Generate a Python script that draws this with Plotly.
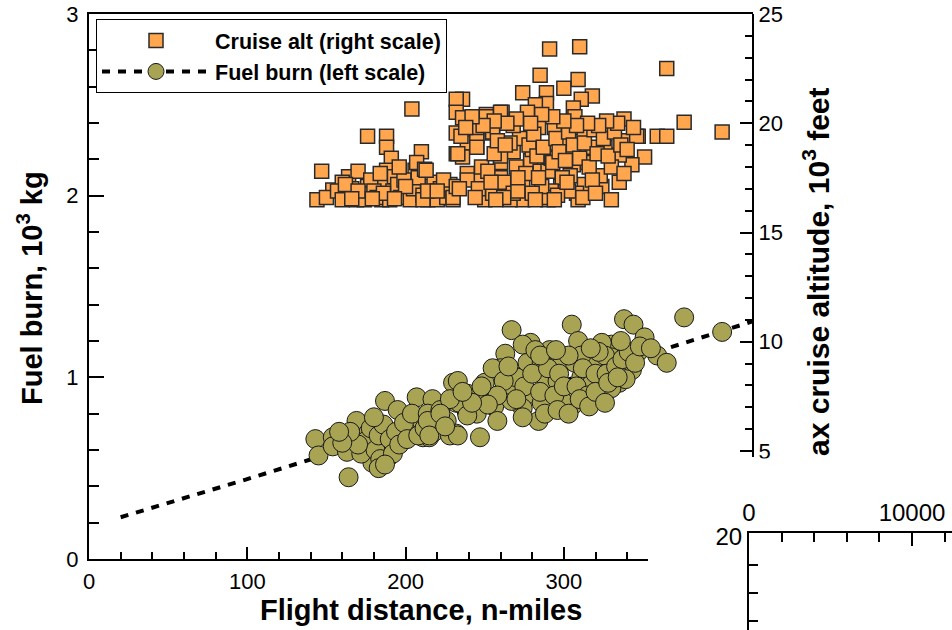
import plotly.graph_objects as go

# ---------------- data ----------------
# Max cruise altitude (right scale, 10^3 ft) vs flight distance (n-miles)
sq_dist = [204,176,188,188,191,210,147,144,154,164,170,163,169,176,185,188,185,201,206,214,214,176,193,160,
           150,157,160,166,172,174,178,180,182,190,192,195,197,199,203,205,208,211,216,218,220,222,226,228,
           184,196,207,212,162,170,186,200,166,179,193,211,224,230,213,214,220,230,
           291,310,365,285,309,274,289,300,318,311,289,282,306,236,251,261,307,376,400,359,365,338,330,347,
           351,343,335,326,318,312,304,299,291,279,285,306,313,324,330,323,290,274,274,266,250,247,260,268,
           272,255,245,245,239,236,239,260,255,266,298,308,309,304,232,232,232,232,232,
           277,284,294,260,266,280,299,303,292,305,268,260,251,255,245,245,233,235,236,245,239,234,262,268,
           288,286,290,292,315,330,330,339,346,
           248,252,256,258,263,270,276,278,281,283,287,293,295,297,301,303,306,310,313,316,319,321,325,328,
           332,336,340,344,334,327,322,315,308,300,293,286,279,270,264,256,249,242,238,246,254,262,271,280,
           284,296,302,312,318,335,338,320,282,294,257,244,271]
sq_alt = [20.65,19.4,19.4,18.9,18.4,18.7,17.8,16.5,16.95,17.55,17.8,16.7,16.5,17.1,17.2,17.85,16.5,16.8,17.85,17.1,16.5,16.6,17.55,17.3,
          16.6,16.9,16.5,17.0,16.8,16.5,17.4,16.9,16.6,16.5,16.9,17.2,16.6,17.4,16.5,17.0,17.5,16.7,16.8,17.3,16.5,17.0,16.6,17.2,
          17.7,18.0,18.2,17.9,17.2,16.9,16.8,17.1,16.55,16.55,16.55,16.5,17.4,16.5,17.85,16.9,16.9,16.6,
          23.4,23.5,22.5,22.2,22.0,21.4,21.4,21.6,21.25,21.1,20.9,20.85,20.7,21.1,20.4,20.5,20.3,20.05,19.6,19.4,19.4,20.2,19.9,19.4,
          18.45,18.1,18.55,18.9,18.9,19.5,19.8,19.2,18.45,18.3,17.8,18.1,17.2,17.1,16.5,17.6,16.5,17.1,16.5,16.5,16.5,17.4,18.2,18.7,
          19.3,19.55,18.9,19.5,19.1,18.45,17.7,17.5,16.8,17.2,17.1,16.8,16.5,17.6,21.1,20.5,19.55,18.6,17.1,
          20.5,19.8,19.8,18.5,19.1,18.8,17.5,16.9,16.9,18.6,19.9,20.5,20.3,19.6,19.4,18.9,18.6,19.4,20.25,19.8,17.4,17.0,17.3,16.8,
          16.6,17.1,17.8,18.4,18.2,18.0,19.9,19.2,19.4,
          18.0,17.8,18.6,19.2,19.0,18.0,17.7,19.0,19.5,18.5,18.9,18.2,19.3,18.7,18.3,19.6,19.0,18.4,19.1,18.0,19.7,18.6,19.3,18.5,
          19.6,19.0,18.8,19.8,20.0,20.1,19.9,20.0,19.9,20.1,20.3,20.4,20.0,20.2,20.0,20.1,19.9,20.3,19.8,17.0,17.3,16.6,16.9,16.8,
          17.5,16.7,17.3,16.6,17.4,17.3,17.7,16.8,16.5,16.5,16.5,16.6,17.5]

# Fuel burn (left scale, 10^3 kg) vs flight distance (n-miles)
fb_dist = [143,154,145,154,164,163,169,167,176,176,179,179,186,187,185,188,191,189,195,198,207,217,203,206,210,211,215,220,224,230,232,232,179,
           172,175,178,181,183,184,186,190,192,194,196,199,201,204,208,212,214,218,222,226,228,180,170,165,160,158,183,187,
           267,305,338,344,376,400,351,347,359,365,330,324,309,291,279,274,263,260,268,277,286,299,318,330,343,335,323,330,311,306,
           292,305,289,279,274,284,274,263,256,258,246,245,233,234,239,233,247,214,215,307,296,318,267,250,239,228,222,225,282,311,
           326,299,286,255,265,339,
           270,275,280,285,290,294,297,300,303,308,312,315,320,322,327,333,337,341,345,262,258,252,248,242,236,270,288,296,303,310,
           316,320,326,328,334,265,285,295,317,336,348,355]
fb_kg = [0.66,0.67,0.57,0.62,0.45,0.59,0.76,0.66,0.69,0.60,0.56,0.53,0.64,0.87,0.64,0.71,0.62,0.56,0.82,0.69,0.89,0.88,0.73,0.71,0.76,0.67,0.67,0.78,0.73,0.97,0.86,0.69,0.62,
         0.58,0.65,0.72,0.60,0.68,0.55,0.74,0.66,0.58,0.70,0.63,0.75,0.66,0.80,0.68,0.72,0.80,0.70,0.82,0.76,0.68,0.78,0.63,0.70,0.64,0.70,0.50,0.52,
         1.26,1.29,1.32,1.29,1.33,1.25,1.22,1.14,1.12,1.08,1.18,1.19,1.20,1.15,1.19,1.18,1.13,1.05,1.01,1.08,1.08,1.08,1.08,1.11,1.04,0.97,0.89,0.94,1.00,0.85,
         0.84,0.91,0.98,0.91,0.83,0.76,0.78,0.93,0.84,0.76,0.90,0.80,0.98,0.86,0.79,0.68,0.67,0.76,0.68,1.08,0.98,0.97,0.87,0.97,0.91,0.88,0.80,0.73,1.15,1.12,
         1.12,0.87,0.86,1.05,0.96,0.99,
         1.00,0.95,1.02,0.92,1.05,0.90,1.02,0.95,1.12,0.95,1.05,0.90,1.02,1.14,1.02,1.06,1.10,1.14,1.08,0.98,0.90,0.85,0.95,0.86,0.92,0.88,0.80,0.82,0.80,0.88,
         0.84,0.92,0.86,0.97,1.00,1.06,1.12,1.15,1.16,1.20,1.17,1.16]

# fitted fuel-burn curve (dashed)
fit_dist = [20, 100, 200, 300, 420]
fit_kg = [0.23, 0.44, 0.71, 0.98, 1.31]

W, H = 952, 630
def fx(p):
    return p / W
def fy(p):
    return 1 - p / H

FONT = "Liberation Sans, Arial, sans-serif"
SQ_COLOR = "#FFA64F"
CI_COLOR = "#A8A454"

fig = go.Figure()

fig.add_trace(go.Scatter(x=fit_dist, y=fit_kg, xaxis="x2", yaxis="y", mode="lines",
                         line=dict(color="black", width=4, dash="8px,8px"),
                         showlegend=False, hoverinfo="skip"))
fig.add_trace(go.Scatter(x=fb_dist, y=fb_kg, xaxis="x2", yaxis="y", mode="markers",
                         marker=dict(symbol="circle", size=19, color=CI_COLOR,
                                     line=dict(color="#1a1a1a", width=1)),
                         showlegend=False))
fig.add_trace(go.Scatter(x=sq_dist, y=sq_alt, xaxis="x2", yaxis="y2", mode="markers",
                         marker=dict(symbol="square", size=14, color=SQ_COLOR,
                                     line=dict(color="#2a2a2a", width=1.5)),
                         showlegend=False))
# legend entries
fig.add_trace(go.Scatter(x=[None], y=[None], xaxis="x2", yaxis="y2", mode="markers",
                         name="<b>Cruise alt (right scale)</b>",
                         marker=dict(symbol="square", size=14, color=SQ_COLOR,
                                     line=dict(color="#2a2a2a", width=1.5))))
fig.add_trace(go.Scatter(x=[None], y=[None], xaxis="x2", yaxis="y", mode="lines+markers",
                         name="<b>Fuel burn (left scale)</b>",
                         line=dict(color="black", width=4, dash="8px,8px"),
                         marker=dict(symbol="circle", size=19, color=CI_COLOR,
                                     line=dict(color="#1a1a1a", width=1))))
# empty traces so that the bottom axis and the fragment axes are drawn
fig.add_trace(go.Scatter(x=[None], y=[None], xaxis="x", yaxis="y", mode="markers",
                         showlegend=False, hoverinfo="skip"))
fig.add_trace(go.Scatter(x=[None], y=[None], xaxis="x3", yaxis="y3", mode="markers",
                         showlegend=False, hoverinfo="skip"))

axis_common = dict(showgrid=False, zeroline=False, showline=True, linecolor="black",
                   linewidth=2, tickcolor="black", tickwidth=2, automargin=False,
                   tickfont=dict(family=FONT, size=22, color="black"))
frag_font = dict(family=FONT, size=24, color="black")

fig.update_layout(
    template="none",
    width=W, height=H,
    margin=dict(l=0, r=0, t=0, b=0),
    paper_bgcolor="white", plot_bgcolor="rgba(0,0,0,0)",
    font=dict(family=FONT, color="black"),
    xaxis=dict(domain=[fx(89), fx(648)], range=[0, 353.1], anchor="y",
               ticks="inside", ticklen=12, dtick=100, tick0=0, ticklabelstandoff=2,
               minor=dict(dtick=20, ticks="inside", ticklen=7, tickwidth=1.5, tickcolor="black"),
               **axis_common),
    yaxis=dict(domain=[fy(559), fy(14)], range=[0, 3], anchor="x",
               ticks="inside", ticklen=15, dtick=1, tick0=0, ticklabelstandoff=4,
               minor=dict(dtick=0.2, ticks="inside", ticklen=10, tickwidth=1.5, tickcolor="black"),
               **axis_common),
    xaxis2=dict(domain=[fx(89), fx(753)], range=[0, 419.5], anchor="y", side="top",
                showline=True, linecolor="black", linewidth=2, ticks="", automargin=False,
                showticklabels=False, showgrid=False, zeroline=False),
    yaxis2=dict(domain=[fy(457), fy(14)], range=[4.725, 25], anchor="free",
                position=fx(753), side="right",
                ticks="inside", ticklen=12, dtick=5, tick0=0,
                minor=dict(dtick=1, ticks="inside", ticklen=7, tickwidth=1.5, tickcolor="black"),
                **axis_common),
    xaxis3=dict(domain=[fx(749), 1], range=[0, 12454], anchor="y3", side="top",
                ticks="inside", ticklen=13, dtick=10000, tick0=0, exponentformat="none",
                separatethousands=False, tickformat="d",
                minor=dict(dtick=2000, ticks="inside", ticklen=9, tickwidth=1.5, tickcolor="black"),
                **{**axis_common, "tickfont": frag_font}),
    yaxis3=dict(domain=[0, fy(533)], range=[16.68, 20.14], anchor="x3",
                ticks="", dtick=5, tick0=0,
                minor=dict(dtick=1, ticks="inside", ticklen=9, tickwidth=1.5, tickcolor="black"),
                **{**axis_common, "tickfont": frag_font}),
    legend=dict(x=fx(96), y=fy(19), xanchor="left", yanchor="top",
                bgcolor="white", bordercolor="black", borderwidth=1,
                font=dict(family=FONT, size=21.5, color="black"),
                itemwidth=108, tracegroupgap=0),
    annotations=[
        dict(text="<b>Flight distance, n-miles</b>", xref="paper", yref="paper",
             x=fx(421), y=fy(610), xanchor="center", yanchor="middle", showarrow=False,
             font=dict(family=FONT, size=29, color="black")),
        dict(text="<b>Fuel burn, 10<sup>3</sup> kg</b>", xref="paper", yref="paper",
             x=fx(30), y=fy(288), xanchor="center", yanchor="middle", showarrow=False,
             textangle=-90, font=dict(family=FONT, size=29, color="black")),
        dict(text="<b>ax cruise altitude, 10<sup>3</sup> feet</b>", xref="paper", yref="paper",
             x=fx(816), y=fy(272), xanchor="center", yanchor="middle", showarrow=False,
             textangle=-90, font=dict(family=FONT, size=30, color="black")),
    ],
    shapes=[dict(type="rect", xref="paper", yref="paper", x0=fx(735), x1=fx(790),
                 y0=fy(500), y1=fy(458.5), fillcolor="white", line=dict(width=0), layer="above")],
)

fig.write_html("out.html", config={"displayModeBar": False})
